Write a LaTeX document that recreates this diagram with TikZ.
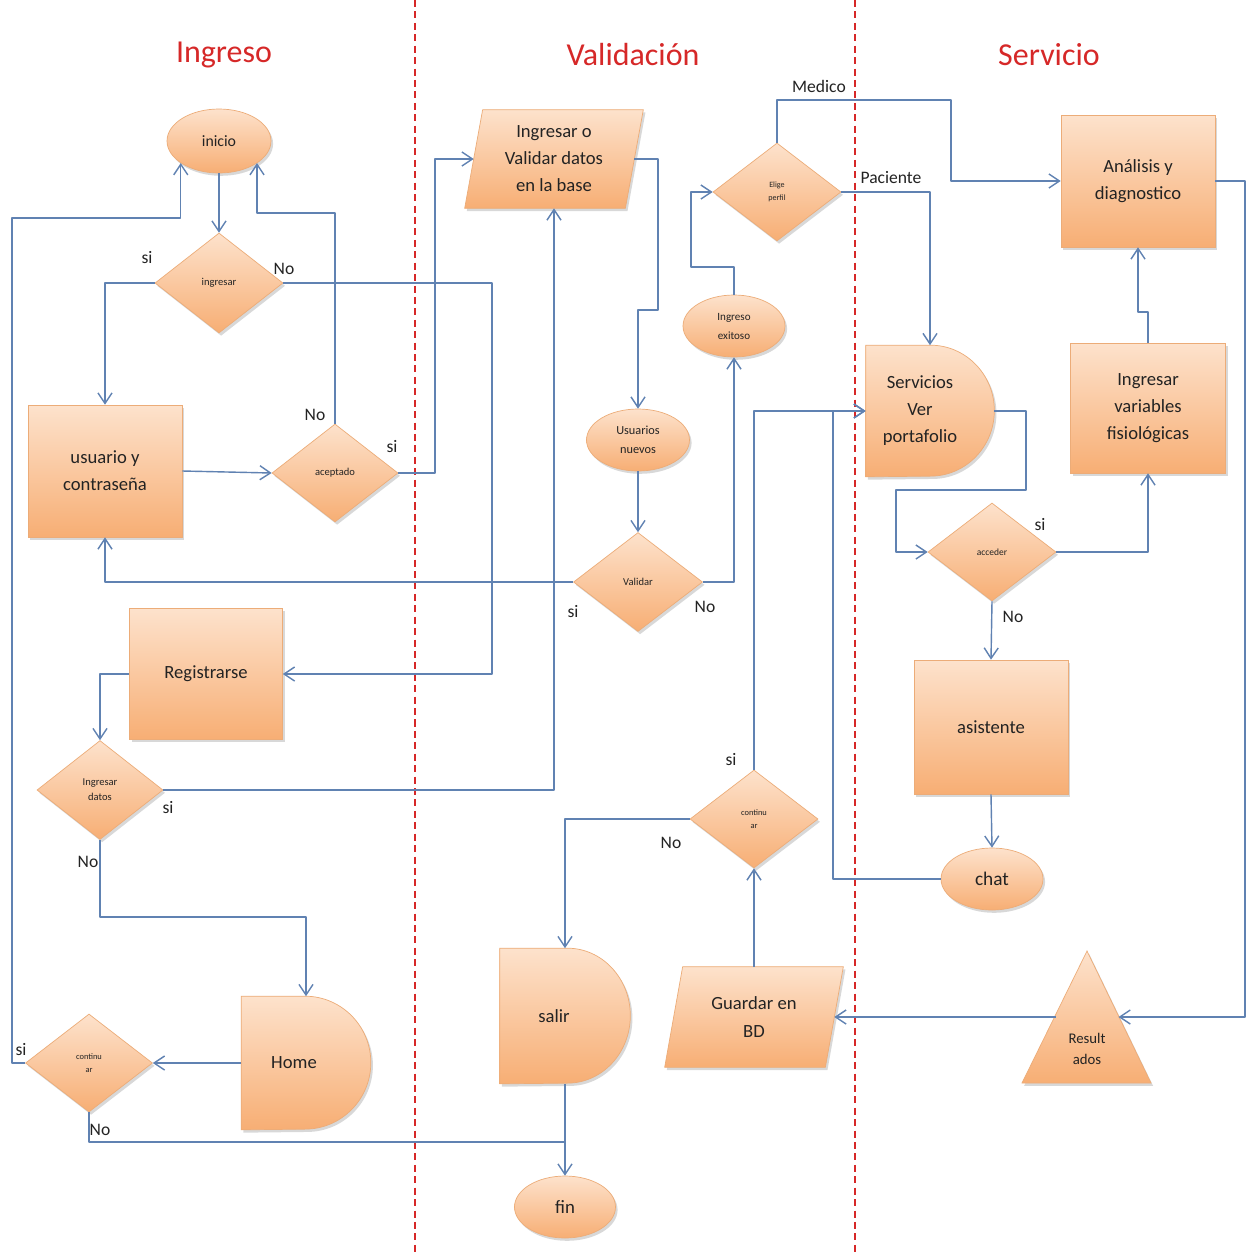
\documentclass[tikz,border=0pt]{standalone}
\usepackage{fontspec}
\setmainfont{Carlito}
\usetikzlibrary{shapes.geometric,arrows.meta,calc,shadows,backgrounds}
\definecolor{edgec}{RGB}{96,130,178}
\definecolor{ftop}{RGB}{253,226,204}
\definecolor{fbot}{RGB}{247,174,116}
\definecolor{fborder}{RGB}{236,172,120}
\definecolor{titlered}{RGB}{214,40,40}
\definecolor{txt}{RGB}{35,35,35}
\newcommand{\myfs}[2]{\fontsize{#1}{#2}\selectfont}
\begin{document}
\begin{tikzpicture}[x=0.02cm,y=-0.02cm,
  every node/.style={text=txt},
  boxfill/.style={top color=ftop, bottom color=fbot, draw=fborder, line width=0.4pt,
    drop shadow={shadow xshift=1.2pt,shadow yshift=-1.6pt,opacity=0.3}},
  rbox/.style={rectangle, boxfill, inner sep=0, align=center, font=\myfs{10.6}{15.4}},
  dia/.style={diamond, boxfill, inner sep=0, aspect=1.3, align=center, font=\myfs{6}{8.4}},
  ell/.style={ellipse, boxfill, inner sep=0, align=center},
  ghost/.style={rectangle, inner sep=0, draw=none, align=center, font=\myfs{10.6}{15.4}},
  lbl/.style={font=\myfs{10}{12}, inner sep=1pt},
  ttl/.style={font=\myfs{18.2}{20}, text=titlered},
  ln/.style={draw=edgec, line width=0.8pt, line join=round},
  arr/.style={ln, -{Straight Barb[length=6pt,width=8pt]}},
  sep/.style={draw=titlered, line width=0.6pt, dash pattern=on 4pt off 2.5pt}
]
\useasboundingbox (0,0) rectangle (1248,1255);

% lane separators
\coordinate (s1t) at (415,0); \coordinate (s1b) at (415,1255);
\coordinate (s2t) at (855,0); \coordinate (s2b) at (855,1255);
\draw[sep] (s1t) -- (s1b);
\draw[sep] (s2t) -- (s2b);

% titles
\node[ttl] (t1) at (224,55) {Ingreso};
\node[ttl] (t2) at (633,55) {Validación};
\node[ttl] (t3) at (1049,55) {Servicio};

% nodes
\node[ell, minimum width=2.08cm, minimum height=1.28cm, font=\myfs{9}{11}] (inicio) at (219,141) {inicio};
\node[dia, minimum width=2.56cm, minimum height=2cm] (ingresar) at (219,283) {ingresar};
\node[rbox, minimum width=3.08cm, minimum height=2.64cm] (usuario) at (105,471) {usuario y\\contraseña};
\node[dia, minimum width=2.52cm, minimum height=1.96cm] (aceptado) at (335,473) {aceptado};
\node[rbox, minimum width=3.06cm, minimum height=2.62cm] (registrarse) at (206,674) {Registrarse};
\node[dia, minimum width=2.52cm, minimum height=1.98cm] (ingdatos) at (100,790) {Ingresar\\datos};
\node[ghost, minimum width=2.58cm, minimum height=2.66cm] (home) at (306,1063) {};
\node[ghost] (homet) at (294,1063) {Home};
\node[dia, minimum width=2.54cm, minimum height=1.96cm, font=\myfs{4.8}{7.6}] (contL) at (89,1063) {continu\\ar};
\node[ell, minimum width=2.02cm, minimum height=1.24cm, font=\myfs{10.7}{12}] (fin) at (565,1207) {fin};
\node[ghost, minimum width=2.6cm, minimum height=2.7cm] (salir) at (565,1016) {};
\node[ghost] (salirt) at (554,1016) {salir};
\node[ghost, minimum width=3.56cm, minimum height=1.96cm] (ingval) at (554,159) {Ingresar o\\Validar datos\\en la base};
\node[ell, minimum width=2.06cm, minimum height=1.24cm, font=\myfs{7}{10.8}] (usunuevos) at (638,440) {Usuarios\\nuevos};
\node[dia, minimum width=2.58cm, minimum height=1.98cm] (validar) at (638,582) {Validar};
\node[ell, minimum width=2.04cm, minimum height=1.24cm, font=\myfs{6.3}{10.8}] (ingexit) at (734,326) {Ingreso\\exitoso};
\node[dia, minimum width=2.56cm, minimum height=1.96cm, font=\myfs{4.6}{7.6}] (elige) at (777,192) {Elige\\perfil};
\node[rbox, minimum width=3.08cm, minimum height=2.64cm] (analisis) at (1138,181) {Análisis y\\diagnostico};
\node[ghost, minimum width=2.56cm, minimum height=2.62cm] (servicios) at (930,411) {};
\node[ghost] (servt) at (920,411) {Servicios\\Ver\\portafolio};
\node[rbox, minimum width=3.1cm, minimum height=2.6cm] (ingvar) at (1148,408) {Ingresar\\variables\\fisiológicas};
\node[dia, minimum width=2.56cm, minimum height=1.96cm, font=\myfs{5.4}{8}] (acceder) at (992,552) {acceder};
\node[rbox, minimum width=3.08cm, minimum height=2.68cm] (asistente) at (991,727) {asistente};
\node[ell, minimum width=2.04cm, minimum height=1.24cm, font=\myfs{11}{12}] (chat) at (992,879) {chat};
\node[dia, minimum width=2.56cm, minimum height=1.96cm, font=\myfs{4.8}{7.6}] (contM) at (754,819) {continu\\ar};
\node[ghost, minimum width=3.56cm, minimum height=2cm] (guardar) at (754,1017) {Guardar en\\BD};
\node[ghost, font=\myfs{8.4}{11.7}] (result) at (1087,1049) {Result\\ados};

% custom shapes behind texts
\begin{scope}[on background layer]
  \fill[white] (0,0) rectangle (1248,1255);
  \path[boxfill] (home.south west) -- (home.north west) -- ($(home.north east)-(66,0)$)
     arc[start angle=90,end angle=-90,x radius=1.32cm,y radius=1.33cm] -- cycle;
  \path[boxfill] (salir.south west) -- (salir.north west) -- ($(salir.north east)-(63,0)$)
     arc[start angle=90,end angle=-90,x radius=1.26cm,y radius=1.35cm] -- cycle;
  \path[boxfill] (servicios.south west) -- (servicios.north west) -- ($(servicios.north east)-(64,0)$)
     arc[start angle=90,end angle=-90,x radius=1.28cm,y radius=1.31cm] -- cycle;
  \path[boxfill] (ingval.south west) -- ($(ingval.north west)+(18,0)$) -- (ingval.north east)
     -- ($(ingval.south east)-(18,0)$) -- cycle;
  \path[boxfill] (guardar.south west) -- ($(guardar.north west)+(18,0)$) -- (guardar.north east)
     -- ($(guardar.south east)-(18,0)$) -- cycle;
  \coordinate (triA) at (1087,951);
  \coordinate (triB) at (1151,1083);
  \coordinate (triC) at (1022,1083);
  \path[boxfill] (triA) -- (triB) -- (triC) -- cycle;
\end{scope}

% connector bend points
\coordinate (b3) at (492,674);
\coordinate (b5) at (257,213);
\coordinate (b6) at (435,159);
\coordinate (b7) at (658,310);
\coordinate (b11) at (691,267);
\coordinate (b12) at (951,100);
\coordinate (b14a) at (1026,490);
\coordinate (b14b) at (896,552);
\coordinate (b16) at (1148,312);
\coordinate (b17) at (1245,1017);
\coordinate (triR) at (1118.5,1017);
\coordinate (triL) at (1055.5,1017);
\coordinate (b20) at (833,411);
\coordinate (b27) at (306,917);
\coordinate (b29) at (12,218);
\coordinate (b30) at (565,1142);

% connectors
\draw[arr] (inicio.south) -- (ingresar.north);
\draw[arr] (ingresar.west) -| (usuario.north);
\draw[arr] (ingresar.east) -| (b3) -- (registrarse.east);
\draw[arr] (usuario.east) -- (aceptado.west);
\draw[arr] (aceptado.north) |- (b5) -- (b5 |- inicio.-30);
\draw[arr] (aceptado.east) -| (b6) -- ($(ingval.west)+(9,0)$);
\draw[arr] ($(ingval.east)-(9,0)$) -| (b7) -| (usunuevos.north);
\draw[arr] (usunuevos.south) -- (validar.north);
\draw[arr] (validar.west) -| (usuario.south);
\draw[arr] (validar.east) -| (ingexit.south);
\draw[arr] (ingexit.north) |- (b11) |- (elige.west);
\draw[arr] (elige.north) |- (b12) |- (analisis.west);
\draw[arr] (elige.east) -| (servicios.north);
\draw[arr] (servicios.east) -| (b14a) -| (b14b) -- (acceder.west);
\draw[arr] (acceder.east) -| (ingvar.south);
\draw[arr] (ingvar.north) -- (b16) -| (analisis.south);
\draw[arr] (analisis.east) -| (b17) -- (triR);
\draw[arr] (acceder.south) -- (asistente.north);
\draw[arr] (asistente.south) -- (chat.north);
\draw[arr] (chat.west) -| (b20) -- (servicios.west);
\draw[arr] (contM.north) |- (servicios.west);
\draw[arr] (contM.west) -| (salir.north);
\draw[arr] (guardar.north) -- (contM.south);
\draw[arr] (triL) -- ($(guardar.east)-(9,0)$);
\draw[arr] (salir.south) -- (fin.north);
\draw[arr] (registrarse.west) -| (ingdatos.north);
\draw[arr] (ingdatos.east) -| (ingval.south);
\draw[arr] (ingdatos.south) |- (b27) -- (home.north);
\draw[arr] (home.west) -- (contL.east);
\draw[arr] (contL.west) -| (b29) -| (inicio.-150);
\draw[ln] (contL.south) |- (b30);

% labels
\node[lbl] (l1) at (147,258) {si};
\node[lbl] (l2) at (284,269) {No};
\node[lbl] (l3) at (315,415) {No};
\node[lbl] (l4) at (392,447) {si};
\node[lbl] (l5) at (573,612) {si};
\node[lbl] (l6) at (705,607) {No};
\node[lbl] (l7) at (819,86) {Medico};
\node[lbl] (l8) at (891,178) {Paciente};
\node[lbl] (l9) at (1040,525) {si};
\node[lbl] (l10) at (1013,617) {No};
\node[lbl] (l11) at (168,808) {si};
\node[lbl] (l12) at (88,862) {No};
\node[lbl] (l13) at (21,1050) {si};
\node[lbl] (l14) at (100,1130) {No};
\node[lbl] (l15) at (731,760) {si};
\node[lbl] (l16) at (671,843) {No};
\end{tikzpicture}
\end{document}
